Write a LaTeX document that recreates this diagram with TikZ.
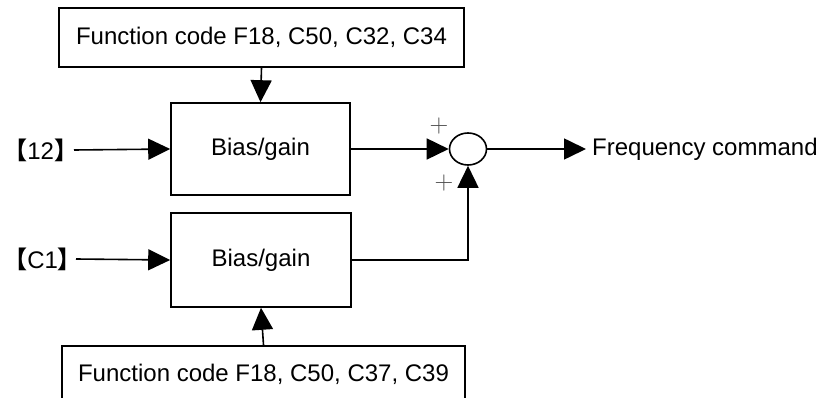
\documentclass[tikz,border=0pt]{standalone}
\usepackage{fontspec}
\setmainfont{Liberation Sans}
\newfontfamily\cjk{Noto Sans CJK SC}
\usetikzlibrary{arrows.meta,shapes.geometric}
\begin{document}
\begin{tikzpicture}[x=1pt,y=-1pt,
  blk/.style={draw,line width=1.6pt,inner sep=0pt,font=\fontsize{24}{28}\selectfont},
  lbl/.style={inner sep=0pt,font=\fontsize{24}{28}\selectfont},
  sgn/.style={inner sep=0pt,text=black!70,font=\fontfamily{lmr}\fontsize{26}{28}\selectfont},
  conn/.style={line width=1.6pt},
  arr/.style={conn,-{Triangle[length=22pt,width=21pt]}}]
\useasboundingbox (0,0) rectangle (826,398);
\clip (0,0) rectangle (826,398);
\node[blk,minimum width=405pt,minimum height=59pt] (top) at (261.5,37.5) {Function code F18, C50, C32, C34};
\node[blk,minimum width=179pt,minimum height=92pt] (b1) at (260.5,149) {Bias/gain};
\node[blk,minimum width=180pt,minimum height=94pt] (b2) at (261,260) {Bias/gain};
\node[blk,minimum width=403pt,minimum height=62pt,anchor=north] (bot) at (263.5,345) {};
\node[lbl] (bottxt) at (263.5,374) {Function code F18, C50, C37, C39};
\node[draw,ellipse,line width=1.6pt,minimum width=37pt,minimum height=32pt,inner sep=0pt] (sum) at (468,149) {};
\node[lbl,anchor=east,outer xsep=-4pt] (in12) at (74,150) {{\cjk\bfseries【}12{\cjk\bfseries】}};
\node[lbl,anchor=east,outer xsep=-6pt] (inc1) at (76,259) {{\cjk\bfseries【}C1{\cjk\bfseries】}};
\coordinate (outend) at (586,149);
\node[lbl,anchor=west] (freq) at (592,149) {Frequency command};
\node[sgn] (p1) at (439,126) {+};
\node[sgn] (p2) at (444,183) {+};
\draw[arr] (top.south) -- (b1.north);
\draw[arr] (bot.north) -- (b2.south);
\draw[arr] (in12.east) -- (b1.west);
\draw[arr] (inc1.east) -- (b2.west);
\draw[arr] (b1.east) -- (sum.west);
\draw[arr] (b2.east) -| (sum.south);
\draw[arr] (sum.east) -- (outend);
\end{tikzpicture}
\end{document}
